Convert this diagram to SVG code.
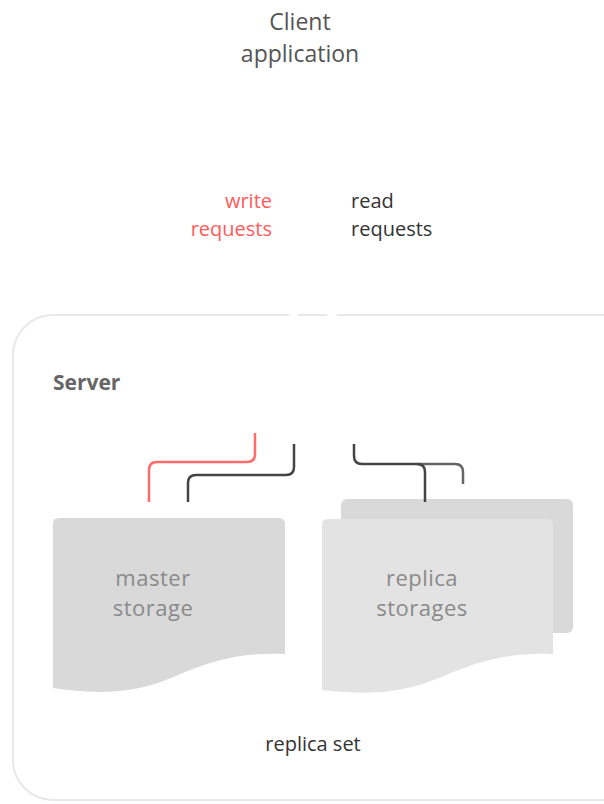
<svg xmlns="http://www.w3.org/2000/svg" width="604" height="804" viewBox="0 0 604 804">
<style>
text{font-family:"Open Sans","Noto Sans",sans-serif}
.t{font-size:23px;fill:#555}
.lbl{font-size:20px}
.st{font-size:22px;fill:#8a8a8a;text-anchor:middle;letter-spacing:0.5px}
.c{fill:none;stroke-width:2.5;stroke-linecap:butt}
</style>
<rect width="604" height="804" fill="#fff"/>
<g id="client">
<text class="t" x="300" y="30" text-anchor="middle">Client</text>
<text class="t" x="300" y="62" text-anchor="middle">application</text>
</g>
<g id="labels">
<text class="lbl" x="272" y="208" text-anchor="end" fill="#ff5a5a">write</text>
<text class="lbl" x="272" y="236" text-anchor="end" fill="#ff5a5a">requests</text>
<text class="lbl" x="351" y="208" fill="#333">read</text>
<text class="lbl" x="351" y="236" fill="#333">requests</text>
</g>
<g id="server">
<rect x="13" y="315" width="630" height="485" rx="40" fill="#fff" stroke="#e8e8e8" stroke-width="2"/>
<line x1="289" y1="315" x2="298" y2="315" stroke="#fff" stroke-width="4"/>
<line x1="327" y1="315" x2="337" y2="315" stroke="#fff" stroke-width="4"/>
<text x="53" y="390" font-size="21" font-weight="bold" fill="#666">Server</text>
</g>
<g id="replica-back">
<rect x="341" y="499" width="232" height="134" rx="6" fill="#d9d9d9"/>
</g>
<g id="master-storage">
<path d="M53,524 Q53,518 59,518 H279 Q285,518 285,524 V654 C245,652 215,660 185,672 C145,690 115,697 53,688 Z" fill="#d9d9d9"/>
<text class="st" x="153" y="586">master</text>
<text class="st" x="153" y="616">storage</text>
</g>
<g id="replica-storages">
<path d="M322,525 Q322,519 328,519 H547 Q553,519 553,525 V654 C513,652 483,660 453,672 C413,690 383,697 322,690 Z" fill="#e3e3e3"/>
<text class="st" x="422" y="586">replica</text>
<text class="st" x="422" y="616">storages</text>
</g>
<g id="connectors">
<path class="c" stroke="#ff6b6b" d="M255,433 V454 Q255,462 247,462 H157 Q149,462 149,470 V502"/>
<path class="c" stroke="#444" d="M294,444 V467 Q294,475 286,475 H196 Q188,475 188,483 V502"/>
<path class="c" stroke="#666" d="M417,464 H455 Q463,464 463,472 V484"/>
<path class="c" stroke="#444" d="M354,444 V456 Q354,464 362,464 H417 Q425,464 425,472 V502"/>
</g>
<g id="replica-set">
<text x="313" y="751" font-size="20" fill="#333" text-anchor="middle">replica set</text>
</g>
</svg>
